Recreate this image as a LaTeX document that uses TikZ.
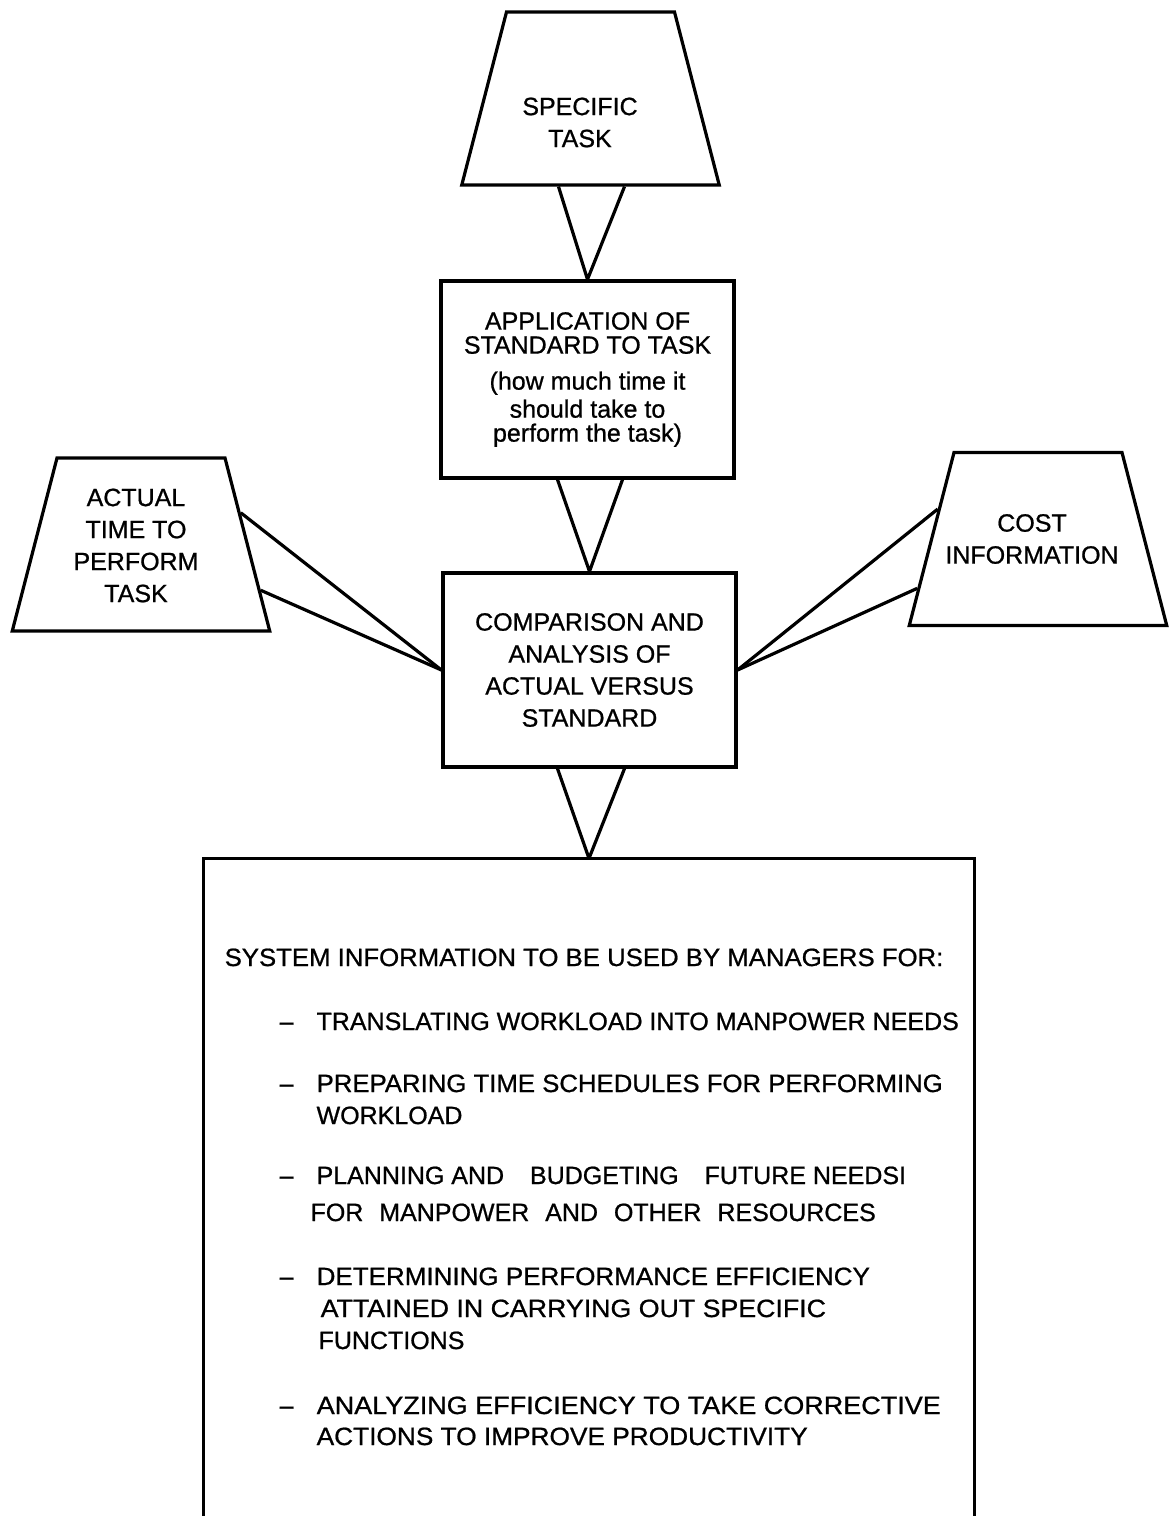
\documentclass[tikz,border=0pt]{standalone}
\usepackage{fontspec}
\setmainfont{Liberation Sans}[UprightFeatures={FakeBold=0.8}]
\usetikzlibrary{shapes.geometric,calc}

\begin{document}
\begin{tikzpicture}[x=1pt,y=-1pt,line width=3.2pt,
    every node/.style={font=\fontsize{25}{32}\selectfont,inner sep=0pt},
    trap/.style={draw,trapezium,trapezium angle=75.5,
        text width=168pt,text height=173pt,text depth=0pt},
    box/.style={draw,rectangle,align=center,minimum width=293pt},
    funnel/.style={line join=bevel},
    item/.style={anchor=base west},
    widen/.style={xscale=#1,transform shape}]
    \useasboundingbox (0,0) rectangle (1169,1516);
    % inputs
    \node[trap] (spec) at (590.5,98.5) {};
    \node[align=center] (spec-text) at (580,122.5) {SPECIFIC\\TASK};
    \node[trap] (act) at (141,544.5) {};
    \node[align=center] (act-text) at (136,545.5) {ACTUAL\\TIME TO\\PERFORM\\TASK};
    \node[trap] (cost) at (1038,539) {};
    \node[align=center] (cost-text) at (1032,539) {COST\\INFORMATION};
    % processing
    \node[box,minimum height=197pt] (app) at (587.5,379.5)
        {APPLICATION OF\\[-8pt]STANDARD TO TASK\\[4pt](how much time it\\[-4pt]should take to\\[-8pt]perform the task)};
    \node[box,minimum height=194pt] (comp) at (589.5,670)
        {COMPARISON AND\\ANALYSIS OF\\ACTUAL VERSUS\\STANDARD};
    \node[minimum width=768pt,minimum height=656pt] (sys) at (589,1188) {};
    \draw (sys.south west) -- (sys.north west) -- (sys.north east) -- (sys.south east);
    % funnels
    \draw[funnel] ($(spec.bottom side)+(-32,0)$) -- (app.north) -- ($(spec.bottom side)+(34,0)$);
    \draw[funnel] ($(app.south)+(-30,0)$) -- (comp.north) -- ($(app.south)+(35,0)$);
    \draw[funnel] ($(comp.south)+(-32,0)$) -- (sys.north) -- ($(comp.south)+(35,0)$);
    % side inputs
    \draw ($(act.top right corner)!0.32!(act.bottom right corner)$) -- (comp.west);
    \draw ($(act.top right corner)!0.76!(act.bottom right corner)$) -- (comp.west);
    \draw ($(cost.top left corner)!0.33!(cost.bottom left corner)$) -- (comp.east);
    \draw ($(cost.top left corner)!0.78!(cost.bottom left corner)$) -- (comp.east);
    % uses of the information
    \node[item,widen=1.03] (head) at (223,966) {SYSTEM INFORMATION TO BE USED BY MANAGERS FOR:};
    \node[item] (dash-a) at (278,1030) {–};
    \node[item] (use-a) at (315,1030) {TRANSLATING WORKLOAD INTO MANPOWER NEEDS};
    \node[item] (dash-b) at (278,1092) {–};
    \node[item,widen=1.03] (use-b) at (315,1092) {PREPARING TIME SCHEDULES FOR PERFORMING};
    \node[item] (use-b2) at (315,1124) {WORKLOAD};
    \node[item] (dash-c) at (278,1184) {–};
    \node[item] (use-c) at (315,1184) {PLANNING AND\hspace{19pt} BUDGETING\hspace{19pt} FUTURE NEEDSI};
    \node[item] (use-c2) at (309,1221) {FOR\hspace{9pt} MANPOWER\hspace{9pt} AND\hspace{9pt} OTHER\hspace{9pt} RESOURCES};
    \node[item] (dash-d) at (278,1285) {–};
    \node[item,widen=1.04] (use-d) at (315,1285) {DETERMINING PERFORMANCE EFFICIENCY};
    \node[item,widen=1.07] (use-d2) at (319,1317) {ATTAINED IN CARRYING OUT SPECIFIC};
    \node[item] (use-d3) at (317,1349) {FUNCTIONS};
    \node[item] (dash-e) at (278,1414) {–};
    \node[item,widen=1.08] (use-e) at (315,1414) {ANALYZING EFFICIENCY TO TAKE CORRECTIVE};
    \node[item,widen=1.05] (use-e2) at (315,1445) {ACTIONS TO IMPROVE PRODUCTIVITY};
\end{tikzpicture}
\end{document}
